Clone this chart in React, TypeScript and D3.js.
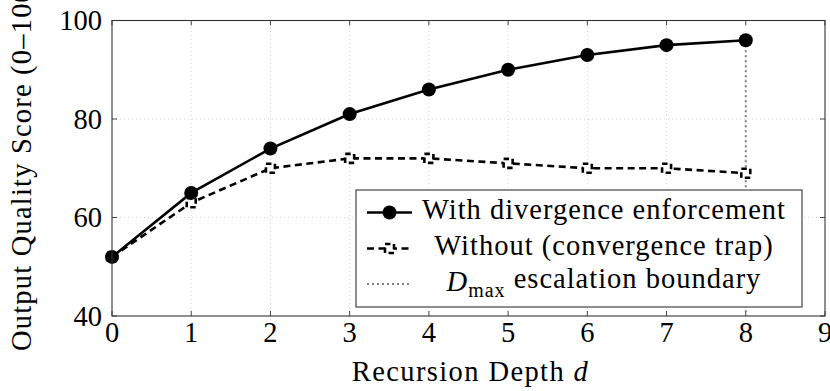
import React from "react";
import * as d3 from "d3";

const depths = [0, 1, 2, 3, 4, 5, 6, 7, 8];
const withDivergence = [52, 65, 74, 81, 86, 90, 93, 95, 96];
const withoutDivergence = [52, 63, 70, 72, 72, 71, 70, 70, 69];
const xTicks = [0, 1, 2, 3, 4, 5, 6, 7, 8, 9];
const yTicks = [40, 60, 80, 100];
const dMax = 8;
const legendLabels = ["With divergence enforcement", "Without (convergence trap)", "escalation boundary"];

const W = 830;
const H = 391;
const FONT = "Liberation Serif";
const FS = 28.5;
const LS = 1;

export default function App() {
  const x = d3.scaleLinear().domain([0, 9]).range([112, 825]);
  const y = d3.scaleLinear().domain([40, 100]).range([316, 20.5]);
  const [x0, x1] = x.range();
  const [y0, y1] = y.range();

  const line = d3
    .line<number>()
    .x((_, i) => x(depths[i]))
    .y((v) => y(v));

  const legX = 356;
  const legY = 190;
  const legW = 446;
  const legH = 117;
  const rowY = [212.5, 248.5, 284];
  const symX0 = 367;
  const symX1 = 412;
  const symC = 389.5;
  const textC = 604;

  const square = (cx: number, cy: number, key: string | number) => (
    <rect
      key={key}
      x={cx - 4.5}
      y={cy - 4.5}
      width={9}
      height={9}
      fill="white"
      stroke="black"
      strokeWidth={2.6}
      strokeDasharray="5.5,3.5"
    />
  );

  return (
    <svg
      width={W}
      height={H}
      style={{ position: "absolute", left: 0, top: 0 }}
      fontFamily={FONT}
    >
      <rect x={0} y={0} width={W} height={H} fill="white" />
      {/* grid */}
      <g stroke="#c8c8c8" strokeWidth={0.8} strokeDasharray="1,3">
        {xTicks.slice(1, -1).map((t) => (
          <line key={"gx" + t} x1={x(t)} x2={x(t)} y1={y0} y2={y1} />
        ))}
        {yTicks.slice(1, -1).map((t) => (
          <line key={"gy" + t} x1={x0} x2={x1} y1={y(t)} y2={y(t)} />
        ))}
      </g>
      {/* ticks inward on all sides */}
      <g stroke="#333" strokeWidth={0.9}>
        {xTicks.map((t) => (
          <g key={"tx" + t}>
            <line x1={x(t)} x2={x(t)} y1={y0} y2={y0 - 5} />
            <line x1={x(t)} x2={x(t)} y1={y1} y2={y1 + 5} />
          </g>
        ))}
        {yTicks.map((t) => (
          <g key={"ty" + t}>
            <line x1={x0} x2={x0 + 5} y1={y(t)} y2={y(t)} />
            <line x1={x1} x2={x1 - 5} y1={y(t)} y2={y(t)} />
          </g>
        ))}
      </g>
      {/* D_max boundary */}
      <line
        x1={x(dMax)}
        x2={x(dMax)}
        y1={y(withDivergence[depths.indexOf(dMax)])}
        y2={y0}
        stroke="#808080"
        strokeWidth={2}
        strokeDasharray="2,3"
      />
      {/* without series */}
      <path
        d={line(withoutDivergence) || ""}
        fill="none"
        stroke="black"
        strokeWidth={2.6}
        strokeDasharray="7,4.5"
      />
      {withoutDivergence.map((v, i) => square(x(depths[i]), y(v), "sq" + i))}
      {/* with series */}
      <path d={line(withDivergence) || ""} fill="none" stroke="black" strokeWidth={2.6} />
      {withDivergence.map((v, i) => (
        <circle key={"c" + i} cx={x(depths[i])} cy={y(v)} r={7} fill="black" />
      ))}
      {/* frame */}
      <rect x={x0} y={y1} width={x1 - x0} height={y0 - y1} fill="none" stroke="#333" strokeWidth={1.1} />
      {/* tick labels */}
      <g fontSize={FS} fill="black">
        {xTicks.map((t) => (
          <text key={"lx" + t} x={x(t)} y={y0 + 26} textAnchor="middle">
            {t}
          </text>
        ))}
        {yTicks.map((t) => (
          <text key={"ly" + t} x={x0 - 10} y={y(t)} dy="0.34em" textAnchor="end">
            {t}
          </text>
        ))}
      </g>
      {/* axis labels */}
      <text x={(x0 + x1) / 2 + 2} y={381} fontSize={FS} textAnchor="middle" letterSpacing={1.4}>
        Recursion Depth <tspan fontStyle="italic">d</tspan>
      </text>
      <text
        transform={`translate(${31},${351}) rotate(-90)`}
        fontSize={FS}
        textAnchor="start"
        letterSpacing={1.2}
      >
        Output Quality Score (0–100)
      </text>
      {/* legend */}
      <rect x={legX} y={legY} width={legW} height={legH} fill="white" stroke="#333" strokeWidth={1.1} />
      <line x1={symX0} x2={symX1} y1={rowY[0]} y2={rowY[0]} stroke="black" strokeWidth={2.6} />
      <circle cx={symC} cy={rowY[0]} r={7} fill="black" />
      <line
        x1={symX0}
        x2={symX1}
        y1={rowY[1]}
        y2={rowY[1]}
        stroke="black"
        strokeWidth={2.6}
        strokeDasharray="7,4.5"
      />
      {square(symC, rowY[1], "legsq")}
      <line
        x1={symX0}
        x2={symX1}
        y1={rowY[2]}
        y2={rowY[2]}
        stroke="#808080"
        strokeWidth={2}
        strokeDasharray="2,3"
      />
      <g fontSize={FS} fill="black" letterSpacing={LS}>
        <text x={textC} y={rowY[0]} dy="0.24em" textAnchor="middle">
          {legendLabels[0]}
        </text>
        <text x={textC} y={rowY[1]} dy="0.24em" textAnchor="middle">
          {legendLabels[1]}
        </text>
        <text x={textC} y={rowY[2]} dy="0.24em" textAnchor="middle">
          <tspan fontStyle="italic">D</tspan>
          <tspan fontSize={FS * 0.7} dy="0.3em">max</tspan>
          <tspan dy="-0.3em" fontSize={FS}>{" " + legendLabels[2]}</tspan>
        </text>
      </g>
    </svg>
  );
}
